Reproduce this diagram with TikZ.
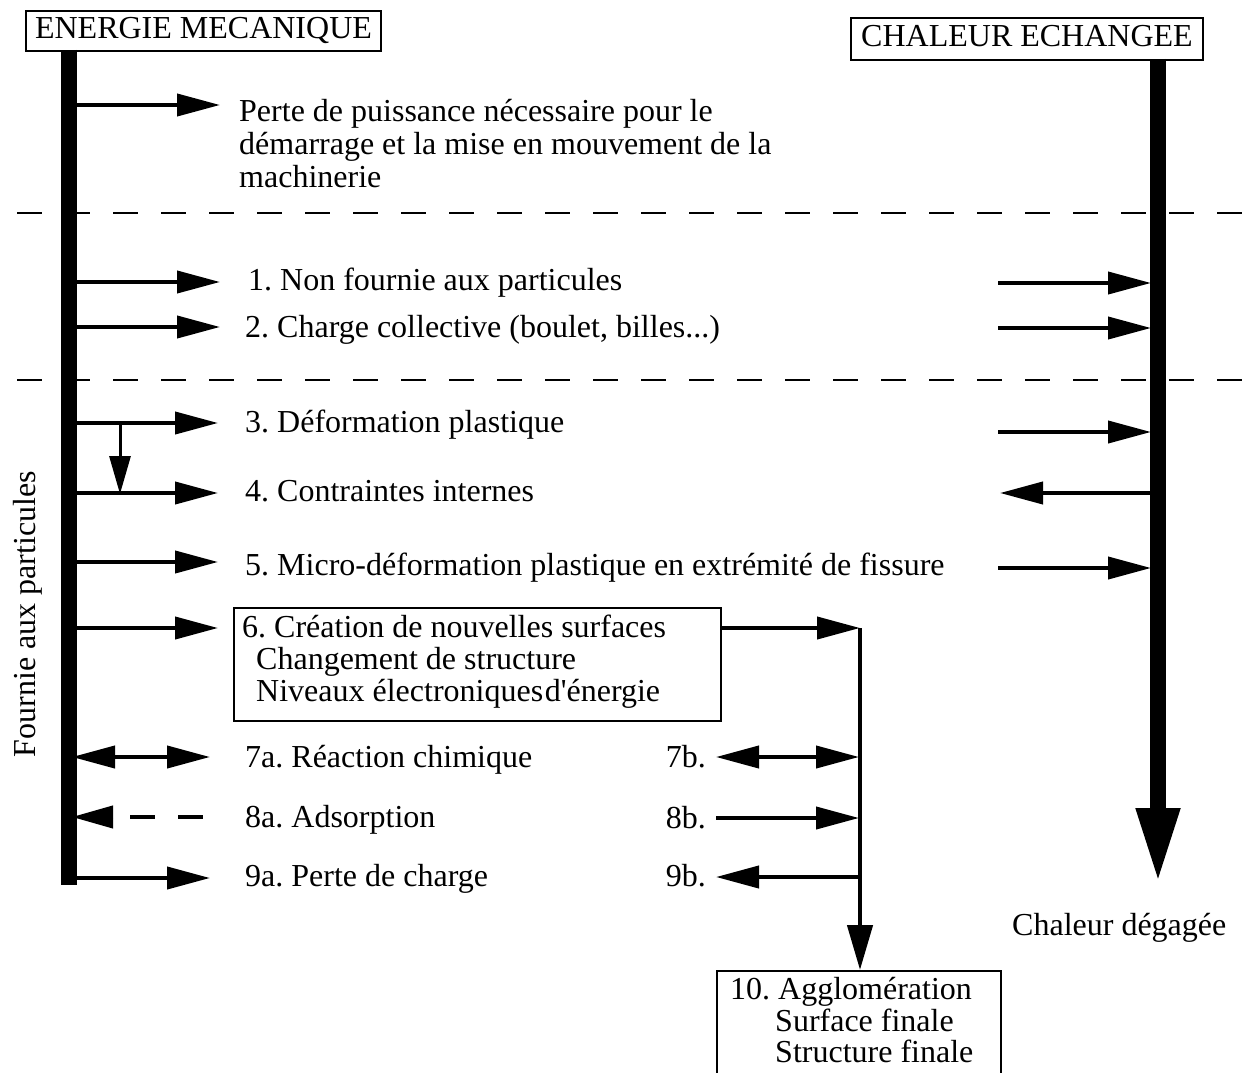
\documentclass[tikz,border=0pt]{standalone}
\usepackage{fontspec}
\setmainfont{Liberation Serif}
\usetikzlibrary{arrows.meta}
\frenchspacing
\begin{document}
\begin{tikzpicture}[x=1pt,y=-1pt,
  txt/.style={anchor=base west,inner sep=0pt,font=\fontsize{32}{32}\selectfont},
  txtr/.style={anchor=base east,inner sep=0pt,font=\fontsize{32}{32}\selectfont},
  hdr/.style={draw,line width=2pt,anchor=north west,inner sep=0pt,text height=21pt,text depth=5pt,font=\fontsize{32}{32}\selectfont},
  pbox/.style={draw,line width=2pt,anchor=north west,inner sep=0pt},
  harr/.style={line width=4pt,-{Triangle[length=43pt,width=22pt]}},
  darr/.style={line width=4pt,{Triangle[length=43pt,width=22pt]}-{Triangle[length=43pt,width=22pt]}},
  bar/.style={line width=16pt},
  dashline/.style={line width=2.5pt,dash pattern=on 25pt off 23pt,dash phase=31pt}]
\useasboundingbox (0,0) rectangle (1242,1073);
\fill[white] (0,0) rectangle (1242,1073);

% headers
\node[hdr,minimum width=355pt,minimum height=40pt] (hE) at (25,10) {ENERGIE MECANIQUE};
\node[hdr,minimum width=352pt,minimum height=42pt] (hC) at (850,17) {CHALEUR ECHANGEE};

% bars
\coordinate (lT) at (69,50);
\coordinate (lB) at (69,885);
\draw[bar] (lT) -- (lB);
\coordinate (rT) at (1158,59);
\coordinate (rB) at (1158,884);
\draw[bar,-{Triangle[length=76pt,width=40pt]}] (rT) -- (rB);

% dashed separators
\coordinate (d1L) at (0,213);
\coordinate (d1R) at (1242,213);
\coordinate (d2L) at (0,380);
\coordinate (d2R) at (1242,380);
\draw[dashline] (d1L) -- (d1R);
\draw[dashline] (d2L) -- (d2R);

% left arrows
\foreach \n/\y/\e in {0/105/220,1/282/220,2/327/220,3/423/218,4/493/218,5/562/218,6/628/218,9/878/210}{
  \coordinate (ls\n) at (72,\y);
  \coordinate (le\n) at (\e,\y);
  \draw[harr] (ls\n) -- (le\n);
}
\coordinate (ls7) at (72,757);
\coordinate (le7) at (210,757);
\draw[darr] (ls7) -- (le7);
\coordinate (h8) at (113,817);
\coordinate (ls8) at (72,817);
\draw[line width=4pt,-{Triangle[length=41pt,width=22pt]}] (h8) -- (ls8);
\coordinate (m8a) at (130,817);
\coordinate (m8b) at (203,817);
\draw[line width=4pt,dash pattern=on 25pt off 23pt] (m8a) -- (m8b);

% small vertical arrow 3 -> 4
\coordinate (v3) at (120,423);
\coordinate (v4) at (120,494);
\draw[line width=3pt,-{Triangle[length=38pt,width=21pt]}] (v3) -- (v4);

% left texts
\node[txt] (t0a) at (239,121) {Perte de puissance nécessaire pour le};
\node[txt] (t0b) at (239,154) {démarrage et la mise en mouvement de la};
\node[txt] (t0c) at (239,187) {machinerie};
\node[txt] (t1) at (248,290) {1. Non fournie aux particules};
\node[txt] (t2) at (245,337) {2. Charge collective (boulet, billes...)};
\node[txt] (t3) at (245,432) {3. Déformation plastique};
\node[txt] (t4) at (245,501) {4. Contraintes internes};
\node[txt] (t5) at (245,575) {5. Micro-déformation plastique en extrémité de fissure};

% box 6
\node[pbox,minimum width=487pt,minimum height=113pt] (b6) at (233,607) {};
\node[txt] (t6a) at (242,637) {6. Création de nouvelles surfaces};
\node[txt] (t6b) at (256,669) {Changement de structure};
\node[txt] (t6c) at (256,701) {Niveaux électroniques\hspace{-0.2em} d\textquotesingle énergie};

\node[txt] (t7) at (245,767) {7a. Réaction chimique};
\node[txt] (t8) at (245,827) {8a. Adsorption};
\node[txt] (t9) at (245,886) {9a. Perte de charge};

% collector line
\coordinate (j6) at (860,628);
\node[pbox,minimum width=284pt,minimum height=130pt] (b10) at (716,970) {};
\draw[harr] (b6.north east |- le6) -- (j6);
\draw[line width=4.5pt,-{Triangle[length=45pt,width=25pt]}] (j6) -- (j6 |- b10.north);

\coordinate (s7b) at (716,757);
\coordinate (j7) at (859,757);
\draw[darr] (s7b) -- (j7);
\coordinate (s8b) at (716,818);
\coordinate (j8) at (859,818);
\draw[harr] (s8b) -- (j8);
\coordinate (s9b) at (716,877);
\coordinate (j9) at (860,877);
\draw[harr] (j9) -- (s9b);

\node[txtr] (t7b) at (706,767) {7b.};
\node[txtr] (t8b) at (706,828) {8b.};
\node[txtr] (t9b) at (706,886) {9b.};

% box 10
\node[txt] (t10a) at (730,999) {10. Agglomération};
\node[txt] (t10b) at (775,1031) {Surface finale};
\node[txt] (t10c) at (775,1062) {Structure finale};

% right arrows
\foreach \n/\y in {1/283,2/328,3/432,5/568}{
  \coordinate (rs\n) at (998,\y);
  \coordinate (re\n) at (1151,\y);
  \draw[harr] (rs\n) -- (re\n);
}
\coordinate (rs4) at (1152,493);
\coordinate (re4) at (1000,493);
\draw[harr] (rs4) -- (re4);

\node[txt] (tch) at (1012,935) {Chaleur dégagée};

% vertical label
\node[rotate=90,anchor=base,inner sep=0pt,font=\fontsize{32}{32}\selectfont] (tf) at (35,614) {Fournie aux particules};
\end{tikzpicture}
\end{document}
